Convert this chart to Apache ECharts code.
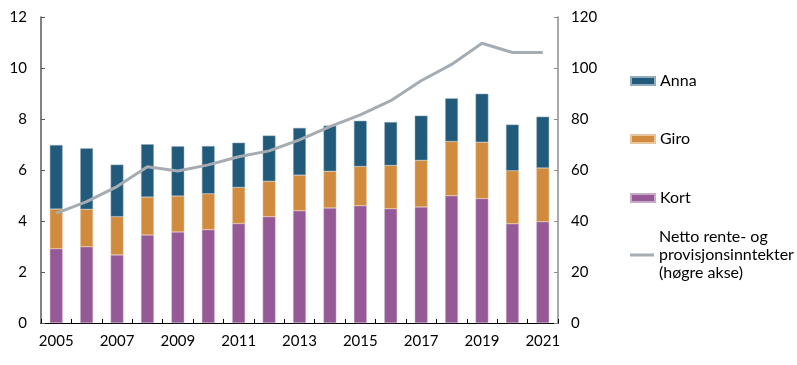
<!DOCTYPE html>
<html>
<head>
<meta charset="utf-8">
<script src="https://cdn.jsdelivr.net/npm/echarts@6/dist/echarts.min.js"></script>
<style>
html,body{margin:0;padding:0;background:#fff;}
#chart{width:797px;height:365px;}
</style>
</head>
<body>
<div id="chart"></div>
<script>
const years = ['2005','2006','2007','2008','2009','2010','2011','2012','2013','2014','2015','2016','2017','2018','2019','2020','2021'];
const kort = [2.91, 2.99, 2.67, 3.45, 3.57, 3.66, 3.90, 4.17, 4.40, 4.51, 4.60, 4.48, 4.55, 4.99, 4.88, 3.89, 3.97];
const giro = [1.56, 1.47, 1.50, 1.49, 1.41, 1.41, 1.42, 1.39, 1.40, 1.44, 1.54, 1.70, 1.83, 2.13, 2.21, 2.08, 2.11];
const anna = [2.51, 2.39, 2.04, 2.07, 1.95, 1.87, 1.75, 1.79, 1.85, 1.79, 1.79, 1.70, 1.75, 1.69, 1.90, 1.81, 2.01];
const netto = [43.0, 47.6, 53.5, 61.3, 59.6, 62.0, 65.2, 67.5, 71.8, 77.0, 81.6, 87.2, 95.0, 101.4, 109.7, 106.1, 106.1];
const leftTicks = [0, 12, 2];
const rightTicks = [0, 120, 20];

const FONT = 'Lato';
const chart = echarts.init(document.getElementById('chart'), null, {renderer: 'canvas'});
const legendText = {fontFamily: FONT, fontSize: 16, color: '#000', lineHeight: 18};
function legendAt(name, top, extra) {
  return Object.assign({
    data: [name], left: 630, top: top, orient: 'vertical', padding: 0,
    itemWidth: 24, itemHeight: 8, icon: 'rect', selectedMode: false,
    textStyle: legendText
  }, extra || {});
}
chart.setOption({
  animation: false,
  grid: {left: 41, right: 239, top: 17, bottom: 42, containLabel: false},
  legend: [
    legendAt('Anna', 72),
    legendAt('Giro', 130),
    legendAt('Kort', 189),
    legendAt('Netto rente- og\nprovisjonsinntekter\n(høgre akse)', 210, {
      itemHeight: 3,
      textStyle: Object.assign({}, legendText, {padding: [36, 0, 0, 0]})
    })
  ],
  xAxis: [{
    type: 'category', data: years, position: 'bottom',
    axisLine: {lineStyle: {color: '#000', width: 1}},
    axisTick: {show: true, inside: true, length: 4, interval: 0, lineStyle: {color: '#000'}},
    axisLabel: {interval: 1, fontFamily: FONT, fontSize: 15, color: '#000', margin: 11}
  }, {
    type: 'category', data: years, position: 'top',
    axisLine: {show: true, lineStyle: {color: '#000', width: 1}},
    axisTick: {show: false}, axisLabel: {show: false}
  }],
  yAxis: [{
    type: 'value', min: leftTicks[0], max: leftTicks[1], interval: leftTicks[2], position: 'left',
    axisLine: {show: true, lineStyle: {color: '#595959', width: 1.5}},
    axisTick: {show: true, inside: true, length: 4, lineStyle: {color: '#595959'}},
    splitLine: {show: false},
    axisLabel: {fontFamily: FONT, fontSize: 15, color: '#000', margin: 14}
  }, {
    type: 'value', min: rightTicks[0], max: rightTicks[1], interval: rightTicks[2], position: 'right',
    axisLine: {show: true, lineStyle: {color: '#8c8c8c', width: 1.5}},
    axisTick: {show: true, inside: true, length: 4, lineStyle: {color: '#8c8c8c'}},
    splitLine: {show: false},
    axisLabel: {fontFamily: FONT, fontSize: 15, color: '#000', margin: 13}
  }],
  series: [
    {name: 'Kort', type: 'bar', stack: 'a', data: kort, barWidth: '42%',
     itemStyle: {color: '#955A96', borderColor: '#c7a9c8', borderWidth: 0.5}},
    {name: 'Giro', type: 'bar', stack: 'a', data: giro, barWidth: '42%',
     itemStyle: {color: '#D08B3F', borderColor: '#e7c59f', borderWidth: 0.5}},
    {name: 'Anna', type: 'bar', stack: 'a', data: anna, barWidth: '42%',
     itemStyle: {color: '#215A7A', borderColor: '#90acbd', borderWidth: 0.5}},
    {name: 'Netto rente- og\nprovisjonsinntekter\n(høgre akse)', type: 'line', yAxisIndex: 1, data: netto,
     symbol: 'none', lineStyle: {color: '#A5ACB2', width: 3}, itemStyle: {color: '#A5ACB2'}, z: 5}
  ]
});
</script>
</body>
</html>
